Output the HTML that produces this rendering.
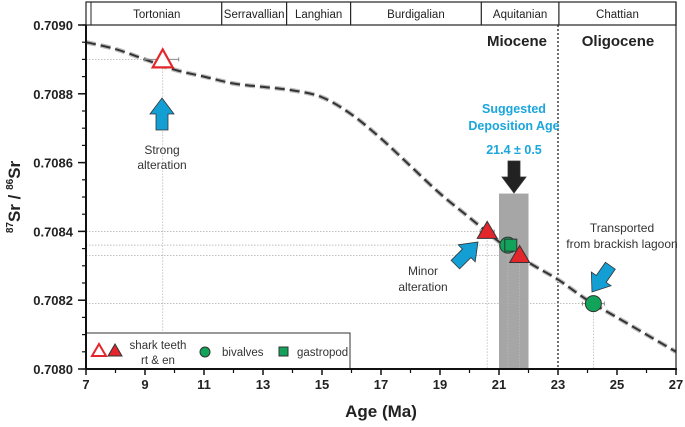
<!DOCTYPE html>
<html><head><meta charset="utf-8"><style>
body{margin:0;background:#fff;}
svg text{font-family:"Liberation Sans",sans-serif;}
</style></head><body>
<svg width="685" height="422" viewBox="0 0 685 422">
<g id="plot"></g>
</svg>
<script>
const curveAges=[7,8,9,10,11,12,13,14,15,16,17,18,19,20,21,22,23,24,25,26,27];
const curveSr=[0.70895,0.70893,0.70890,0.70887,0.70885,0.70883,0.70882,0.70881,0.70879,0.70874,0.70867,0.70859,0.70851,0.70844,0.70837,0.70831,0.70826,0.70820,0.70815,0.70810,0.70805];
const sampleAges=[9.6,20.6,21.3,21.4,21.7,24.2];
const sampleSr=[0.70890,0.70840,0.70836,0.70836,0.70833,0.70819];
const sampleTypes=['open-triangle','triangle','circle','square','triangle','circle'];
const xTicks=[7,9,11,13,15,17,19,21,23,25,27];
const yTicks=[0.7080,0.7082,0.7084,0.7086,0.7088,0.7090];
const stageNames=['Tortonian','Serravallian','Langhian','Burdigalian','Aquitanian','Chattian'];
const stageBounds=[7.2,11.6,13.8,15.97,20.4,23.03,27];
const X=a=>86+(a-7)*29.5, Y=v=>25+(0.7090-v)*344000;
const NS='http://www.w3.org/2000/svg', g=document.getElementById('plot');
function mk(t,a,txt){const e=document.createElementNS(NS,t);for(const k in a)e.setAttribute(k,a[k]);if(txt!==undefined)e.textContent=txt;g.appendChild(e);return e;}
// stage header
mk('rect',{x:86,y:2,width:590,height:23,fill:'none',stroke:'#222','stroke-width':1.2});
mk('line',{x1:91,y1:2,x2:91,y2:25,stroke:'#222'});
for(let i=0;i<stageNames.length;i++){
 if(i>0)mk('line',{x1:X(stageBounds[i]),y1:2,x2:X(stageBounds[i]),y2:25,stroke:'#222','stroke-width':1.2});
 const t=mk('text',{x:(X(stageBounds[i])+X(stageBounds[i+1]))/2,y:18,'text-anchor':'middle','font-size':11.5,fill:'#222'},stageNames[i]);
 
 
}
// gray band
const band=mk('rect',{x:X(21),y:Y(0.70851),width:X(22)-X(21),height:369-Y(0.70851),fill:'#a6a6a6'});

// epoch boundary
mk('line',{x1:X(23),y1:25,x2:X(23),y2:369,stroke:'#222','stroke-width':1.3,'stroke-dasharray':'2,2'});
mk('text',{x:517,y:46,'text-anchor':'middle','font-size':15,'font-weight':'bold',fill:'#222'},'Miocene');
mk('text',{x:618,y:46,'text-anchor':'middle','font-size':15,'font-weight':'bold',fill:'#222'},'Oligocene');
// guide lines
sampleAges.forEach((a,i)=>{if(i===3)return;
 mk('line',{x1:86,y1:Y(sampleSr[i]),x2:X(a),y2:Y(sampleSr[i]),stroke:'#aaa','stroke-width':0.8,'stroke-dasharray':'1.5,1.5'});
 mk('line',{x1:X(a),y1:Y(sampleSr[i]),x2:X(a),y2:369,stroke:'#bbb','stroke-width':0.8,'stroke-dasharray':'1.5,1.5'});
});
// curve (smoothed)
const P=curveAges.map((a,i)=>[X(a),Y(curveSr[i])]);
let d='M'+P[0][0]+','+P[0][1];
for(let i=0;i<P.length-1;i++){const p0=P[Math.max(0,i-1)],p1=P[i],p2=P[i+1],p3=P[Math.min(P.length-1,i+2)];
 d+=`C${p1[0]+(p2[0]-p0[0])/6},${p1[1]+(p2[1]-p0[1])/6} ${p2[0]-(p3[0]-p1[0])/6},${p2[1]-(p3[1]-p1[1])/6} ${p2[0]},${p2[1]}`;}
mk('path',{d:d,fill:'none',stroke:'#bbb','stroke-width':4.5,'stroke-dasharray':'10,5'});
const cv=mk('path',{d:d,fill:'none',stroke:'#333','stroke-width':2,'stroke-dasharray':'10,5'});

// error bars
[[0,18,8],[1,7,7],[5,11,11]].forEach(([i,w1,w2])=>{const y=Y(sampleSr[i]),x=X(sampleAges[i]);
 mk('line',{x1:x-w1-(i==0?0:0),y1:y,x2:x+w2+(i==0?8:0),y2:y,stroke:'#888','stroke-width':1});
 mk('line',{x1:x-w1,y1:y-2,x2:x-w1,y2:y+2,stroke:'#888'});
 mk('line',{x1:x+w2+(i==0?8:0),y1:y-2,x2:x+w2+(i==0?8:0),y2:y+2,stroke:'#888'});});
// arrows
function arrow(x,y,ang,col){return mk('path',{d:'M0,0 L-12,-16 L-6,-16 L-6,-32 L6,-32 L6,-16 L12,-16 Z',fill:col,stroke:'#333','stroke-width':0.8,transform:`translate(${x},${y}) rotate(${ang})`});}
let ar=arrow(162,98,180,'#139fd4');
ar=arrow(478,242,225,'#139fd4');
ar=arrow(592,292,35,'#139fd4');
ar=arrow(514,193,0,'#222');
// samples
sampleAges.forEach((a,i)=>{const x=X(a),y=Y(sampleSr[i]),t=sampleTypes[i];let e;
 if(t==='open-triangle')e=mk('path',{d:`M${x},${y-10}L${x+10},${y+8}L${x-10},${y+8}Z`,fill:'#fff',stroke:'#e3262b','stroke-width':2.2});
 else if(t==='triangle')e=mk('path',{d:`M${x},${y-10}L${x+10},${y+7}L${x-10},${y+7}Z`,fill:'#e3262b',stroke:'#333','stroke-width':1});
 else if(t==='circle')e=mk('circle',{cx:x,cy:y,r:8,fill:'#12a35a',stroke:'#333','stroke-width':1});
 else e=mk('rect',{x:x-6,y:y-6,width:12,height:12,fill:'#12a35a',stroke:'#333','stroke-width':1});
 
});
// annotations
[['Strong',162,154],['alteration',162,169],['Minor',423,275],['alteration',423,291],['Transported',622,232],['from brackish lagoon',622,248]].forEach(([s,x,y])=>mk('text',{x:x,y:y,'text-anchor':'middle','font-size':12,fill:'#333'},s));
[['Suggested',514,113],['Deposition Age',514,130],['21.4 ± 0.5',514,154]].forEach(([s,x,y])=>mk('text',{x:x,y:y,'text-anchor':'middle','font-size':12.5,'font-weight':'bold',fill:'#1ba6dc'},s));
// legend
const lg=mk('rect',{x:86,y:333,width:264,height:36,fill:'#fff',stroke:'#333','stroke-width':1});

mk('path',{d:'M99,344L106,356L92,356Z',fill:'#fff',stroke:'#e3262b','stroke-width':2});
mk('path',{d:'M115,344L122,356L108,356Z',fill:'#e3262b',stroke:'#333','stroke-width':1});
mk('text',{x:158,y:349,'text-anchor':'middle','font-size':11.5,fill:'#333'},'shark teeth');
mk('text',{x:158,y:364,'text-anchor':'middle','font-size':11.5,fill:'#333'},'rt & en');
mk('circle',{cx:205,cy:352,r:5,fill:'#12a35a',stroke:'#333'});
mk('text',{x:222,y:356,'font-size':11.5,fill:'#333'},'bivalves');
mk('rect',{x:279,y:347,width:9,height:9,fill:'#12a35a',stroke:'#333'});
mk('text',{x:297,y:356,'font-size':11.5,fill:'#333'},'gastropod');
// axes
mk('line',{x1:86,y1:25,x2:86,y2:369,stroke:'#111','stroke-width':2});
mk('line',{x1:86,y1:369,x2:677,y2:369,stroke:'#111','stroke-width':2});
mk('line',{x1:676,y1:2,x2:676,y2:369,stroke:'#222','stroke-width':1.2});
for(let v=0.7080;v<=0.70901;v+=0.00005)mk('line',{x1:82,y1:Y(v),x2:86,y2:Y(v),stroke:'#111','stroke-width':1.2});
yTicks.forEach(v=>{mk('line',{x1:78,y1:Y(v),x2:86,y2:Y(v),stroke:'#111','stroke-width':1.5});
 mk('text',{x:73,y:Y(v)+5,'text-anchor':'end','font-size':13,'font-weight':'bold',fill:'#222'},v.toFixed(4));});
for(let a=8;a<27;a+=2)mk('line',{x1:X(a),y1:369,x2:X(a),y2:373,stroke:'#111','stroke-width':1.2});
xTicks.forEach(a=>{mk('line',{x1:X(a),y1:369,x2:X(a),y2:375,stroke:'#111','stroke-width':1.5});
 mk('text',{x:X(a),y:389,'text-anchor':'middle','font-size':13,'font-weight':'bold',fill:'#222'},a);});
const xt=mk('text',{x:381,y:417,'text-anchor':'middle','font-size':17,'font-weight':'bold',fill:'#222'},'Age (Ma)');

const yt=mk('text',{x:0,y:0,'text-anchor':'middle','font-size':17,'font-weight':'bold',fill:'#222',transform:'translate(20,197) rotate(-90)'});
yt.innerHTML='<tspan font-size="10" dy="-7">87</tspan><tspan dy="7">Sr / </tspan><tspan font-size="10" dy="-7">86</tspan><tspan dy="7">Sr</tspan>';

</script>
</body></html>
